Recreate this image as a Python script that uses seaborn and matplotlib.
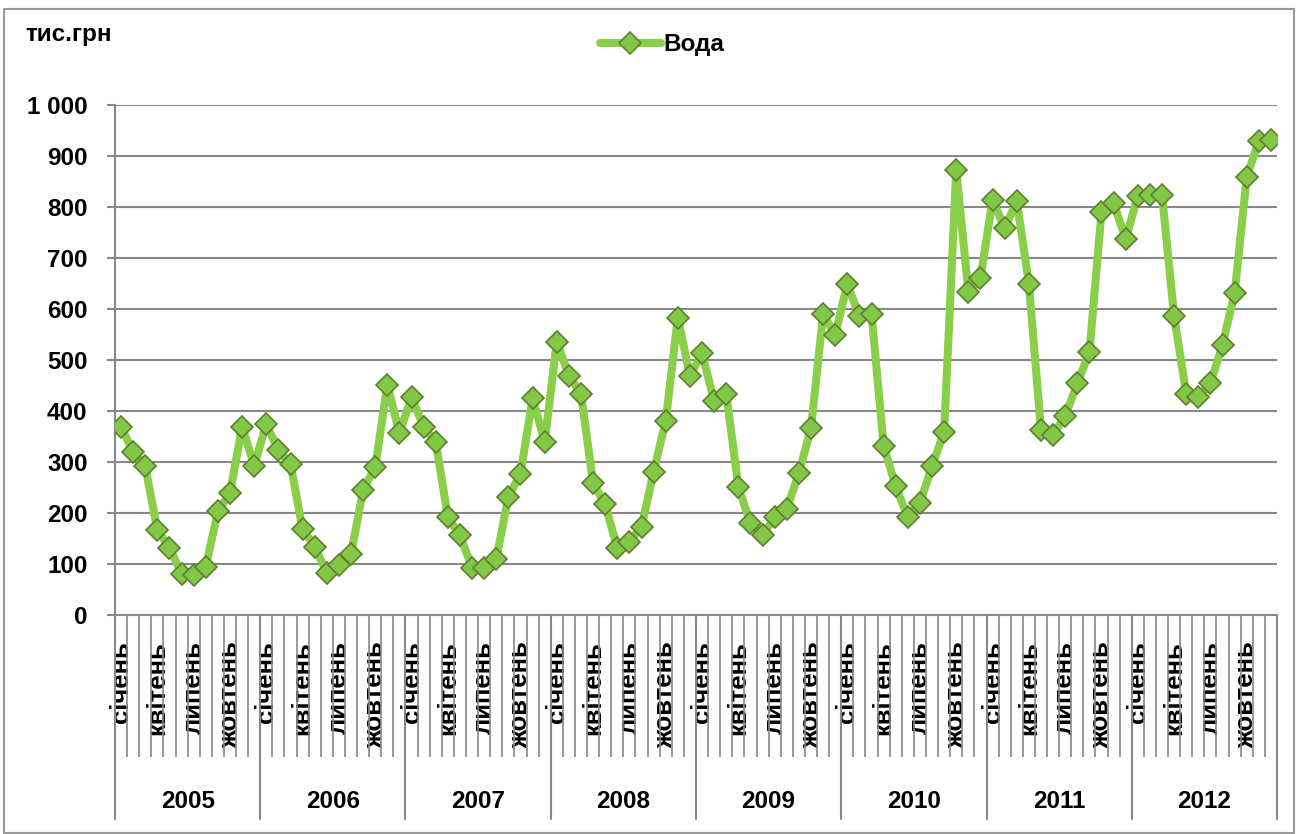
import numpy as np
import pandas as pd
import seaborn as sns
from matplotlib import pyplot as plt
from matplotlib.patches import Rectangle
from matplotlib.transforms import blended_transform_factory

# monthly values, тис.грн
years = [2005, 2006, 2007, 2008, 2009, 2010, 2011, 2012]
months = ["січень", "лютий", "березень", "квітень", "травень", "червень",
          "липень", "серпень", "вересень", "жовтень", "листопад", "грудень"]
voda_2005 = [369, 320, 292, 166, 132, 81, 79, 95, 203, 239, 369, 293]
voda_2006 = [374, 323, 296, 168, 134, 83, 98, 119, 245, 290, 451, 357]
voda_2007 = [427, 369, 339, 192, 156, 93, 92, 110, 232, 277, 425, 339]
voda_2008 = [536, 469, 434, 258, 217, 131, 144, 173, 281, 381, 583, 468]
voda_2009 = [513, 420, 434, 251, 180, 156, 192, 208, 278, 366, 590, 549]
voda_2010 = [649, 586, 591, 332, 252, 192, 219, 292, 359, 873, 634, 660]
voda_2011 = [814, 758, 812, 650, 363, 353, 390, 454, 515, 790, 808, 737]
voda_2012 = [822, 824, 824, 586, 434, 428, 454, 530, 631, 859, 929, 932]
y_ticks = [0, 100, 200, 300, 400, 500, 600, 700, 800, 900, 1000]
y_tick_labels = ["0", "100", "200", "300", "400", "500", "600", "700",
                 "800", "900", "1 000"]

sns.set_style("white")
plt.rcParams["font.family"] = ["Liberation Sans", "DejaVu Sans"]
plt.rcParams["font.weight"] = "bold"
plt.rcParams["text.color"] = "black"
plt.rcParams["xtick.labelcolor"] = "black"
plt.rcParams["ytick.labelcolor"] = "black"

values = (voda_2005 + voda_2006 + voda_2007 + voda_2008 +
          voda_2009 + voda_2010 + voda_2011 + voda_2012)
df = pd.DataFrame({"idx": np.arange(len(values)), "value": values})

W, H = 1300, 834
grey = "#888888"
fs = 17.5

fig = plt.figure(figsize=(13, 8.34), dpi=100)
ax = fig.add_axes([115 / W, 1 - 615 / H, (1277 - 115) / W, 510 / H])

sns.lineplot(data=df, x="idx", y="value", ax=ax, color="#8ACF4A", lw=5.8,
             marker="D", markersize=11.5, markerfacecolor="#82C846",
             markeredgecolor="#5E7F2E", markeredgewidth=1.2, zorder=3)
line = ax.lines[0]

ax.set_xlim(-0.5, len(values) - 0.5)
ax.set_ylim(0, 1000)
ax.set_xlabel("")
ax.set_ylabel("")

ax.set_yticks(y_ticks, y_tick_labels)
ax.yaxis.grid(True, color=grey, lw=1.5)
ax.set_axisbelow(True)
ax.tick_params(axis="y", length=5.8, width=1.5, color=grey, pad=14,
               labelsize=fs, left=True)

lab_pos = [i for i in range(len(values)) if i % 3 == 0]
ax.set_xticks(lab_pos, [months[i % 12] for i in lab_pos])
ax.set_xticks(np.arange(-0.5, len(values), 1), minor=True)
ax.tick_params(axis="x", which="major", length=0, pad=19,
               labelrotation=90, labelsize=18.5)
ax.tick_params(axis="x", which="minor", length=102, width=1.2,
               color=grey, bottom=True)

for s in ["top", "right"]:
    ax.spines[s].set_visible(False)
for s in ["left", "bottom"]:
    ax.spines[s].set_color(grey)
    ax.spines[s].set_linewidth(1.5)

# year groups under the month labels
tr = blended_transform_factory(ax.transData, ax.transAxes)
for k in range(len(years) + 1):
    ax.plot([12 * k - 0.5] * 2, [0, -0.4], transform=tr, clip_on=False,
            color=grey, lw=1.5)
for k, yr in enumerate(years):
    ax.text(12 * k + 5.5, -0.365, str(yr), transform=tr, ha="center",
            va="center", fontsize=fs, fontweight="bold")

fig.text(25 / W, 1 - 35 / H, "тис.грн", ha="left", va="center",
         fontsize=fs, fontweight="bold")
fig.legend(handles=[line], labels=["Вода"], loc="center",
           bbox_to_anchor=(662 / W, 1 - 45 / H), frameon=False,
           handlelength=2.5, handletextpad=0.1, fontsize=fs)

fig.patches.append(Rectangle((4 / W, 1 / H), 1290 / W, 824 / H,
                             transform=fig.transFigure, fill=False,
                             edgecolor="#999999", lw=1.5))

plt.savefig("out.png", dpi=100)
